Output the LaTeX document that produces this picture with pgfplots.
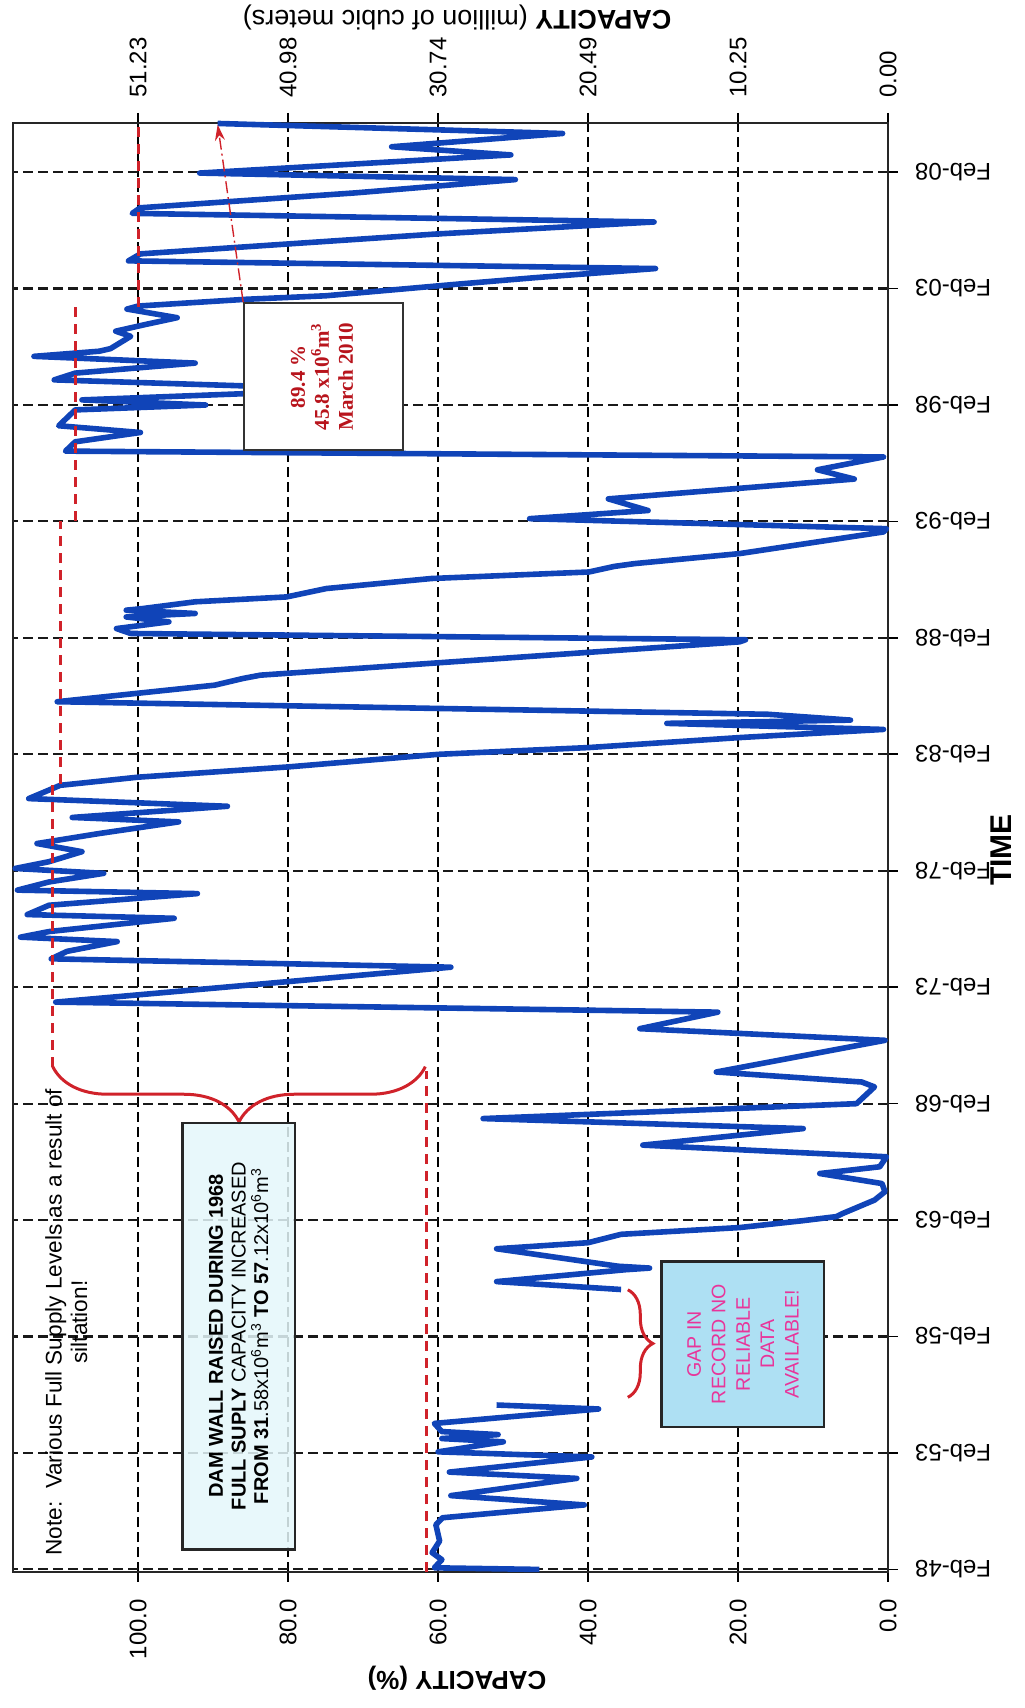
\documentclass[border=0pt]{standalone}
\usepackage{fontspec}
\setmainfont{Liberation Sans}
\newfontfamily\serifbold{Liberation Serif}
\usepackage{pgfplots}
\pgfplotsset{compat=1.18}
\usepackage{pgfplotstable}
\usetikzlibrary{decorations.pathreplacing,arrows.meta}

\definecolor{levelblue}{HTML}{1044B8}
\definecolor{fslred}{HTML}{D0222A}
\definecolor{notefill}{HTML}{E4F7FA}
\definecolor{gapfill}{HTML}{AEE0F3}
\definecolor{gaptext}{HTML}{E8359A}
\definecolor{valred}{HTML}{B8141C}

% Reservoir level record before the gap (year, % of full supply)
\pgfplotstableread{
yr cap
1948.08 46.5
1948.15 60.5
1948.50 59.5
1948.80 60.8
1949.30 59.8
1950.00 60.3
1950.30 59.4
1950.85 40.5
1951.25 58.3
1951.99 41.5
1952.26 58.5
1952.91 39.5
1953.13 60.0
1953.56 51.3
1953.70 59.5
1953.87 52.0
1954.00 59.5
1954.35 60.5
1954.97 38.6
1955.14 52.2
}\recordA

% Reservoir level record from 1960 to March 2010
\pgfplotstableread{
yr cap
1960.10 35.6
1960.44 52.2
1960.95 35.0
1961.02 31.8
1961.10 36.0
1961.85 52.2
1962.11 40.0
1962.47 35.6
1962.76 19.8
1963.05 11.5
1963.23 6.9
1963.37 6.0
1963.94 1.8
1964.30 0.4
1964.65 0.8
1965.08 9.1
1965.37 1.1
1965.80 0.2
1966.30 32.7
1967.01 11.3
1967.44 54.0
1968.08 4.2
1968.80 1.8
1969.01 3.5
1969.44 22.9
1970.80 0.4
1971.30 33.1
1972.01 22.7
1972.44 111.0
1973.94 58.3
1974.30 111.6
1974.62 109.5
1975.04 102.8
1975.23 115.7
1975.47 111.9
1976.04 95.2
1976.20 114.8
1976.60 111.9
1977.10 92.1
1977.25 116.1
1977.60 111.9
1977.97 104.6
1978.18 116.4
1978.47 111.9
1978.90 107.5
1979.25 113.5
1979.68 105.2
1980.18 94.6
1980.37 108.8
1980.85 88.1
1981.18 114.6
1981.60 111.5
1981.75 110.4
1982.10 100.0
1982.54 80.0
1983.08 60.0
1983.37 40.0
1983.80 19.8
1984.15 0.6
1984.41 29.5
1984.55 5.0
1984.80 16.0
1985.34 110.8
1986.05 89.8
1986.34 86.0
1986.48 83.7
1987.91 19.8
1988.00 19.0
1988.27 101.0
1988.48 102.9
1988.77 95.9
1988.98 101.6
1989.13 92.4
1989.27 101.6
1989.34 99.4
1989.63 92.4
1989.84 80.2
1990.20 74.9
1990.63 60.9
1990.91 39.9
1991.15 36.5
1991.27 33.8
1991.70 19.8
1992.63 0.6
1992.77 0.2
1993.20 47.8
1993.55 32.0
1994.05 37.3
1994.90 4.5
1995.30 9.4
1995.85 0.6
1996.10 109.7
1996.50 108.4
1996.90 99.7
1997.19 110.6
1997.87 108.4
1998.08 91.0
1998.30 107.5
1998.75 71.0
1999.16 111.2
1999.45 108.4
1999.88 92.4
2000.17 113.9
2000.39 105.2
2000.50 103.7
2001.03 101.0
2001.25 103.0
2001.54 99.0
2001.83 94.8
2002.20 101.5
2002.33 100.0
2002.62 85.6
2002.77 75.0
2003.27 57.4
2003.55 47.0
2003.94 31.0
2004.27 101.3
2004.57 99.7
2005.42 60.4
2005.94 31.2
2006.31 100.8
2006.55 99.7
2007.19 71.0
2007.76 49.7
2008.04 91.8
2008.82 50.3
2009.17 66.2
2009.74 43.4
2010.17 89.4
}\recordB

\tikzset{
  fsl/.style={fslred, line width=1.5pt, dash pattern=on 5pt off 3.5pt},
  toplab/.style={rotate=90, anchor=west, font=\fontsize{12}{14}\selectfont, inner sep=0pt},
}

\begin{document}
\begin{tikzpicture}
\begin{axis}[
  at={(0pt,0pt)}, anchor=south west,
  scale only axis, width=437.5pt, height=724.5pt,
  xmin=0, xmax=116.7, x dir=reverse,
  ymin=1947.97, ymax=2010.19,
  clip=false,
  xtick={0,20,40,60,80,100},
  xticklabels={0.0,20.0,40.0,60.0,80.0,100.0},
  ytick={1948.083,1953.083,1958.083,1963.083,1968.083,1973.083,1978.083,1983.083,1988.083,1993.083,1998.083,2003.083,2008.083},
  yticklabels={Feb-48,Feb-53,Feb-58,Feb-63,Feb-68,Feb-73,Feb-78,Feb-83,Feb-88,Feb-93,Feb-98,Feb-03,Feb-08},
  xtick pos=both, ytick pos=right, yticklabel pos=right,
  tick align=outside, major tick length=5pt,
  tick style={black, line width=0.8pt},
  xticklabel style={rotate=90, anchor=east},
  yticklabel style={rotate=180, anchor=east},
  tick label style={font=\fontsize{12}{14}\selectfont},
  xticklabel shift=5pt, yticklabel shift=5pt,
  grid=major,
  major x grid style={black, line width=0.8pt, dash pattern=on 5pt off 2.5pt},
  major y grid style={black!90, line width=1.1pt, dash pattern=on 5pt off 2.5pt},
  axis line style={black!85, line width=1pt},
]
\addplot[levelblue, line width=2.8pt, line join=round, no markers] table[x=cap, y=yr] {\recordA};
\addplot[levelblue, line width=2.8pt, line join=round, no markers] table[x=cap, y=yr] {\recordB};

% full supply levels
\draw[fsl] (axis cs:61.6,1947.97) -- (axis cs:61.6,1969.5);
\draw[fsl] (axis cs:111.4,1969.67) -- (axis cs:111.4,1981.8);
\draw[fsl] (axis cs:110.4,1981.8) -- (axis cs:110.4,1993.1);
\draw[fsl] (axis cs:108.3,1993.1) -- (axis cs:108.3,2002.3);
\draw[fsl] (axis cs:100,2002.3) -- (axis cs:100,2010.19);

% braces
\draw[fslred, line width=1.5pt, decorate, decoration={brace, amplitude=27.6pt}]
  (axis cs:61.7,1969.67) -- (axis cs:111.4,1969.67);
\draw[fslred, line width=1.5pt, decorate, decoration={brace, amplitude=12.5pt}]
  (axis cs:34.7,1960.09) -- (axis cs:34.7,1955.47);

% annotation boxes
\draw[black!85, line width=1.2pt, fill=notefill, fill opacity=0.85]
  (axis cs:79.1,1948.94) rectangle (axis cs:94.1,1967.26);
\node[rotate=90, align=center, font=\fontsize{10}{11.3}\selectfont]
  at (axis cs:86.6,1958.1)
  {\textbf{DAM WALL RAISED DURING 1968}\\
   \textbf{FULL SUPLY} CAPACITY INCREASED\\
   \textbf{FROM 31}.58x10\textsuperscript{6}m\textsuperscript{3} \textbf{TO 57}.12x10\textsuperscript{6}m\textsuperscript{3}};

\draw[black!85, line width=1.2pt, fill=gapfill]
  (axis cs:8.5,1954.2) rectangle (axis cs:30.2,1961.3);
\node[rotate=90, align=center, text=gaptext, font=\fontsize{9.8}{12.2}\selectfont]
  at (axis cs:19.35,1957.75)
  {GAP IN\\RECORD NO\\RELIABLE\\DATA\\AVAILABLE!};

\draw[black!80, line width=0.9pt, fill=white]
  (axis cs:64.7,1996.16) rectangle (axis cs:85.9,2002.46);
\node[rotate=90, align=center, text=valred, font=\serifbold\bfseries\fontsize{10.5}{12}\selectfont]
  at (axis cs:75.5,1999.3)
  {89.4 \%\\45.8 x10\textsuperscript{6}m\textsuperscript{3}\\March 2010};

\draw[fslred, line width=0.7pt, dash pattern=on 6pt off 2pt on 1pt off 2pt, -{Stealth[length=8pt, width=5pt]}]
  (axis cs:86.0,2002.5) -- (axis cs:89.4,2010.12);

% note on siltation
\node[rotate=90, align=center, font=\fontsize{11.3}{12.8}\selectfont]
  at (axis cs:109.6,1958.7)
  {Note:\ \ Various Full Supply Levels as a result of\\siltation!};

% secondary scale: million cubic metres
\node[toplab] at ([yshift=12.5pt]axis cs:0,2010.19) {0.00};
\node[toplab] at ([yshift=12.5pt]axis cs:20,2010.19) {10.25};
\node[toplab] at ([yshift=12.5pt]axis cs:40,2010.19) {20.49};
\node[toplab] at ([yshift=12.5pt]axis cs:60,2010.19) {30.74};
\node[toplab] at ([yshift=12.5pt]axis cs:80,2010.19) {40.98};
\node[toplab] at ([yshift=12.5pt]axis cs:100,2010.19) {51.23};
\end{axis}

\node[rotate=180, font=\bfseries\fontsize{13}{15}\selectfont] at (222pt,-53pt) {CAPACITY (\%)};
\node[rotate=180, font=\fontsize{13.5}{15}\selectfont] at (222pt,777pt) {\textbf{CAPACITY} (million of cubic meters)};
\node[rotate=90, font=\bfseries\fontsize{15}{17}\selectfont] at (494pt,361pt) {TIME};

\pgfresetboundingbox
\path[use as bounding box] (-6.5pt,-68pt) rectangle (505.5pt,786pt);
\end{tikzpicture}
\end{document}
